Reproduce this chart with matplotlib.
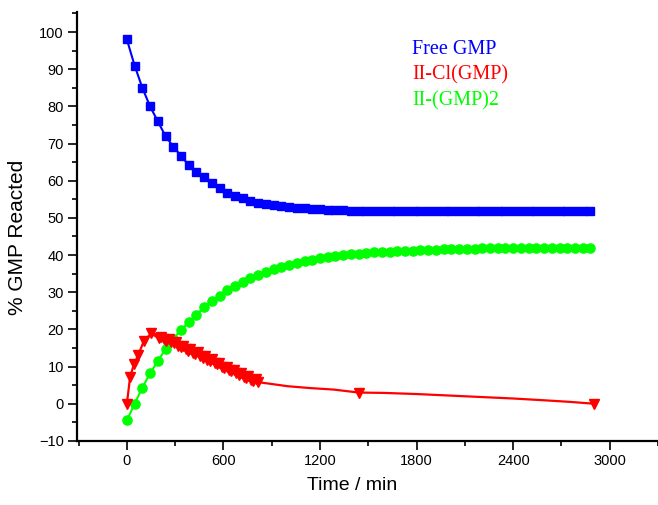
import matplotlib
matplotlib.use("Agg")
import matplotlib.pyplot as plt
from matplotlib.ticker import MultipleLocator

# Sampling times (min) for free GMP and the bis-adduct
time_min = [0, 48, 96, 144, 192, 240, 288, 336, 384, 432,
            480, 528, 576, 624, 672, 720, 768, 816, 864, 912,
            960, 1008, 1056, 1104, 1152, 1200, 1248, 1296, 1344, 1392,
            1440, 1488, 1536, 1584, 1632, 1680, 1728, 1776, 1824, 1872,
            1920, 1968, 2016, 2064, 2112, 2160, 2208, 2256, 2304, 2352,
            2400, 2448, 2496, 2544, 2592, 2640, 2688, 2736, 2784, 2832,
            2880]

free_gmp = [98.0, 91.0, 85.0, 80.0, 76.0, 72.0, 69.2, 66.7, 64.2, 62.4,
            60.9, 59.3, 58.0, 56.8, 55.9, 55.3, 54.6, 54.1, 53.7, 53.4,
            53.1, 52.9, 52.7, 52.6, 52.4, 52.3, 52.2, 52.1, 52.0, 51.9,
            51.9, 51.9, 51.9, 51.9, 51.8, 51.8, 51.8, 51.8, 51.8, 51.8,
            51.8, 51.8, 51.8, 51.8, 51.8, 51.8, 51.8, 51.8, 51.8, 51.8,
            51.8, 51.8, 51.8, 51.8, 51.8, 51.8, 51.8, 51.8, 51.8, 51.8,
            51.8]

bis_gmp = [-4.5, 0.0, 4.3, 8.2, 11.4, 14.7, 17.4, 19.9, 21.9, 23.9,
           26.0, 27.6, 29.1, 30.5, 31.7, 32.8, 33.8, 34.7, 35.5, 36.2,
           36.8, 37.4, 37.9, 38.3, 38.7, 39.1, 39.4, 39.7, 40.0, 40.2,
           40.4, 40.6, 40.7, 40.8, 40.9, 41.0, 41.1, 41.2, 41.3, 41.4,
           41.4, 41.5, 41.6, 41.6, 41.7, 41.7, 41.8, 41.8, 41.9, 41.9,
           41.9, 42.0, 42.0, 42.0, 42.0, 42.0, 42.0, 42.0, 42.0, 42.0,
           42.0]

# Mono-adduct II-Cl(GMP), sampled densely during its build-up and decay
mono_time = [0, 20, 45, 70, 105, 150,
             200, 215, 230, 245, 260, 275, 290, 305, 320, 335,
             350, 365, 380, 395, 410, 425, 440, 455, 470, 485,
             500, 515, 530, 545, 560, 575, 590, 605, 620, 635,
             650, 665, 680, 695, 710, 725, 740, 755, 770, 785,
             800, 815,
             850, 1000, 1140, 1285, 1440, 1600, 1800, 2000, 2200,
             2400, 2600, 2750, 2900]
mono_gmp = [0.0, 7.2, 10.8, 13.0, 16.8, 18.9,
            17.6, 17.9, 17.3, 17.0, 17.4, 16.6, 16.2, 16.5, 15.6, 15.2,
            15.6, 14.6, 14.3, 14.7, 13.7, 13.4, 13.8, 12.8, 12.4, 12.8,
            11.8, 11.5, 11.9, 10.9, 10.6, 11.0, 10.0, 9.6, 10.0, 9.1,
            8.7, 9.1, 8.2, 7.8, 8.2, 7.3, 7.0, 7.4, 6.5, 6.2,
            6.6, 5.8,
            5.6, 4.7, 4.2, 3.8, 3.0, 2.9, 2.6, 2.2, 1.8,
            1.4, 0.9, 0.5, 0.0]
mono_marked = list(range(0, 48)) + [52, 60]

series_names = ["Free GMP", "II-Cl(GMP)", "II-(GMP)2"]
series_colors = ["#0000ff", "#ff0000", "#00ff00"]

x_ticks = [0, 600, 1200, 1800, 2400, 3000]
y_ticks = [-10, 0, 10, 20, 30, 40, 50, 60, 70, 80, 90, 100]

plt.rcParams["font.family"] = ["Liberation Sans", "DejaVu Sans"]

fig = plt.figure(figsize=(6.58, 5.05), dpi=100)
ax = fig.add_axes([0.117, 0.127, 0.883, 0.850])

ax.plot(time_min, free_gmp, color=series_colors[0], lw=1.5,
        marker="s", ms=6.4, mec=series_colors[0], mfc=series_colors[0], zorder=3)
ax.plot(time_min, bis_gmp, color=series_colors[2], lw=1.5,
        marker="o", ms=6.6, mec=series_colors[2], mfc=series_colors[2], zorder=3)
ax.plot(mono_time, mono_gmp, color=series_colors[1], lw=1.6,
        marker="v", ms=7, mec=series_colors[1], mfc=series_colors[1],
        markevery=mono_marked, zorder=4)

ax.set_xlim(-310, 3300)
ax.set_ylim(-10, 105.5)
ax.set_xticks(x_ticks)
ax.set_yticks(y_ticks)
ax.xaxis.set_minor_locator(MultipleLocator(300))
ax.yaxis.set_minor_locator(MultipleLocator(5))

for side in ("top", "right"):
    ax.spines[side].set_visible(False)
for side in ("left", "bottom"):
    ax.spines[side].set_linewidth(1.6)
    ax.spines[side].set_color("black")

ax.tick_params(which="major", direction="out", length=6.5, width=1.2,
               labelsize=10.5, pad=3, colors="black")
ax.tick_params(which="minor", direction="out", length=3.5, width=1.2)

ax.set_xlabel("Time / min", fontsize=14)
ax.set_ylabel("% GMP Reacted", fontsize=15)
ax.xaxis.set_label_coords(0.473, -0.085)
ax.yaxis.set_label_coords(-0.086, 0.475)

for i, (name, color) in enumerate(zip(series_names, series_colors)):
    ax.text(0.577, 0.902 - i * 0.0606, name, color=color, fontsize=14.5,
            family=["Liberation Serif", "DejaVu Serif"],
            transform=ax.transAxes, va="baseline", ha="left")

fig.savefig("out.png", dpi=100)
